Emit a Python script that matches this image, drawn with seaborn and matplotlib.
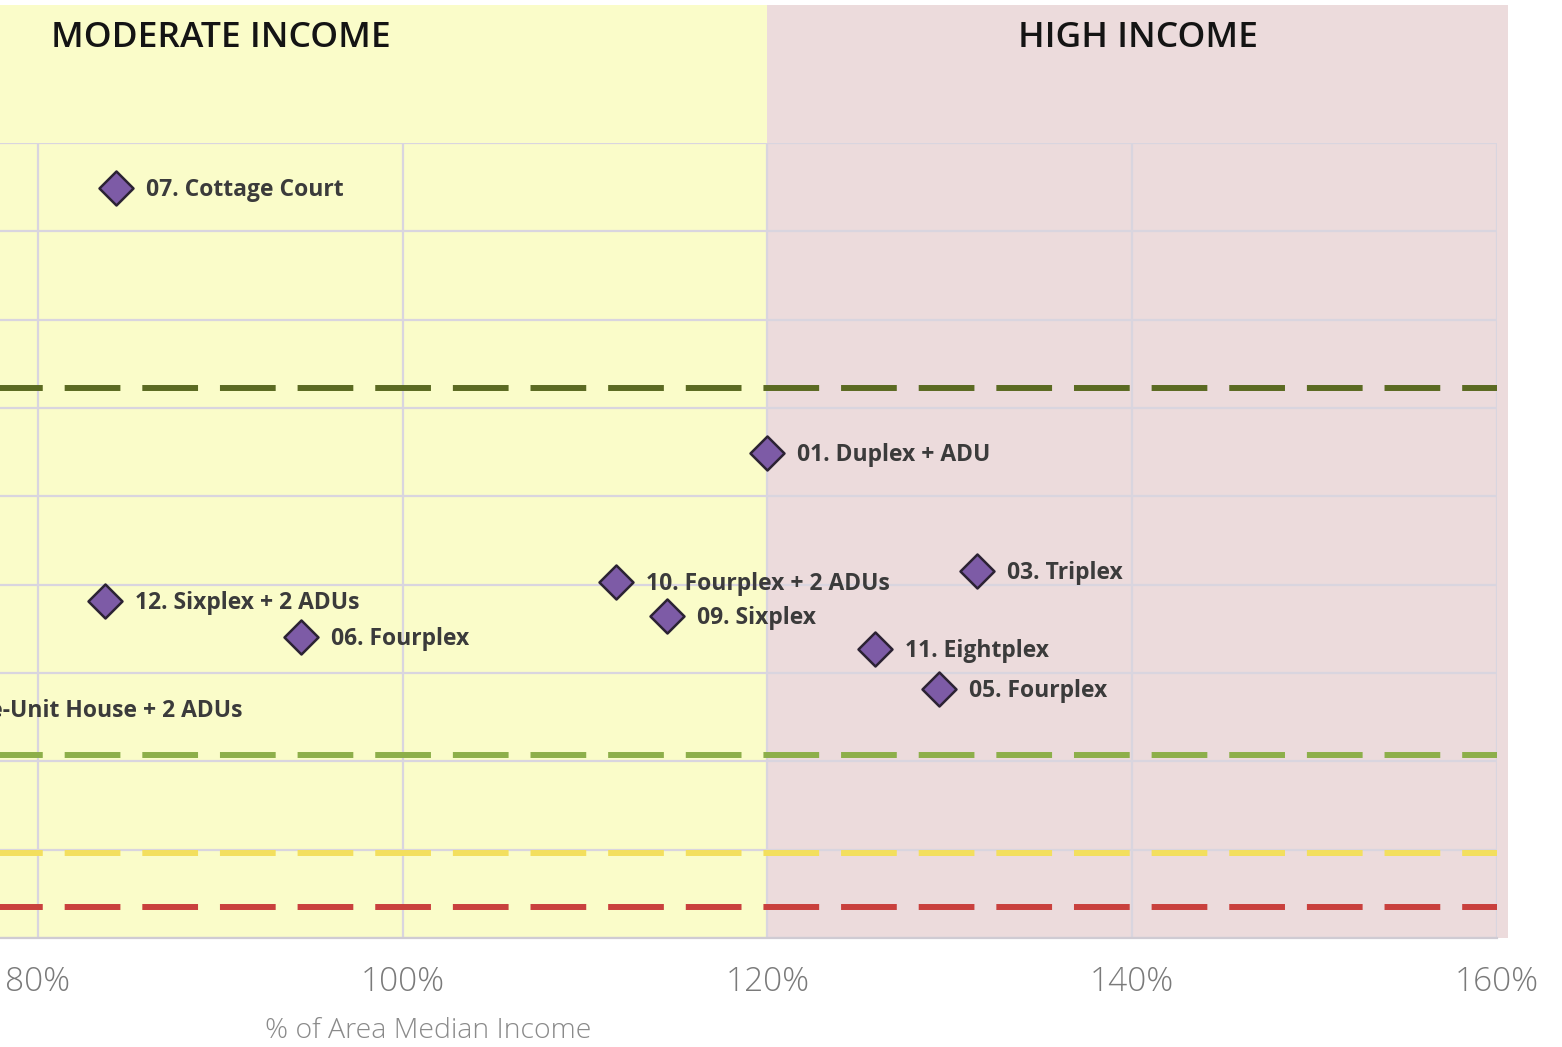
import matplotlib
matplotlib.use("Agg")
import matplotlib.pyplot as plt
import matplotlib.transforms as mtransforms
import seaborn as sns
import pandas as pd

# Housing prototypes: required income (% AMI) vs. cost level
labels = [
    "07. Cottage Court",
    "01. Duplex + ADU",
    "10. Fourplex + 2 ADUs",
    "03. Triplex",
    "12. Sixplex + 2 ADUs",
    "06. Fourplex",
    "09. Sixplex",
    "11. Eightplex",
    "05. Fourplex",
    "08. Single-Unit House + 2 ADUs",
]
ami_pct = [84.3, 120.0, 111.7, 131.5, 83.7, 94.4, 114.5, 125.9, 129.4, 70.6]
cost = [849, 549, 403, 415, 381.5, 340.8, 364.5, 327, 282, 259]

# Horizontal reference thresholds
threshold_values = [622.6, 207, 96, 35]
threshold_colors = ["#5B6A22", "#8DAF4A", "#F3DF5E", "#C9403D"]

# Income bands
band_edges = [(60, 120), (120, 160.6)]
band_names = ["MODERATE INCOME", "HIGH INCOME"]
band_colors = ["#FAFCC9", "#ECDBDC"]

x_ticks = [80, 100, 120, 140, 160]
y_grid = list(range(0, 901, 100))

df = pd.DataFrame({"label": labels, "ami": ami_pct, "cost": cost})

sns.set_theme(style="white")
plt.rcParams["font.family"] = ["Open Sans", "DejaVu Sans"]

fig = plt.figure(figsize=(15.62, 10.47), dpi=100)
ax = fig.add_axes([0.0, 0.1041, 0.9584, 0.7593])
ax.set_facecolor("none")
ax.set_xlim(77.92, 160)
ax.set_ylim(0, 900)

band_top = 933 / 795
blend = mtransforms.blended_transform_factory(ax.transData, ax.transAxes)
for (lo, hi), name, color in zip(band_edges, band_names, band_colors):
    ax.axvspan(lo, hi, ymin=0, ymax=band_top, color=color, lw=0,
               clip_on=False, zorder=0)
    ax.text((lo + hi) / 2, 1.132, name, transform=blend, ha="center",
            va="center", fontsize=25.5, fontweight="semibold", color="#141414")

ax.set_xticks(x_ticks)
ax.set_xticklabels([f"{v}%" for v in x_ticks])
ax.set_yticks(y_grid)
ax.set_yticklabels([])
ax.grid(True, color="#D9D5DF", lw=1.6, zorder=1)
ax.set_axisbelow(True)
for side in ["left", "top", "right"]:
    ax.spines[side].set_visible(False)
ax.spines["bottom"].set_color("#CFCBD3")
ax.spines["bottom"].set_linewidth(1.6)
ax.tick_params(axis="x", length=0, pad=20, labelsize=24, labelcolor="#7A7A7A")
ax.tick_params(axis="y", length=0)
for t in ax.get_xticklabels():
    t.set_fontweight("light")

for v, c in zip(threshold_values, threshold_colors):
    ax.axhline(v, color=c, lw=4.3, linestyle=(2.17, (9.33, 3.67)), zorder=2)

sns.scatterplot(data=df, x="ami", y="cost", marker="D", s=300,
                color="#7D5BA6", edgecolor="#2B2233", linewidth=1.8,
                zorder=4, ax=ax, legend=False)

for lab, x, y in zip(labels, ami_pct, cost):
    ax.annotate(lab, (x, y), xytext=(21.6, -1.2), textcoords="offset points",
                ha="left", va="center", fontsize=16.5, fontweight="bold",
                color="#3B3B3B", annotation_clip=False, zorder=5)

ax.set_xlabel("% of Area Median Income", fontsize=20.5, color="#8A8A8A",
              fontweight="light")
ax.set_ylabel("")
ax.xaxis.set_label_coords(428 / 1497, -(1031 - 938) / 795)
ax.xaxis.label.set_va("center")

fig.savefig("out.png", dpi=100, facecolor="white")
